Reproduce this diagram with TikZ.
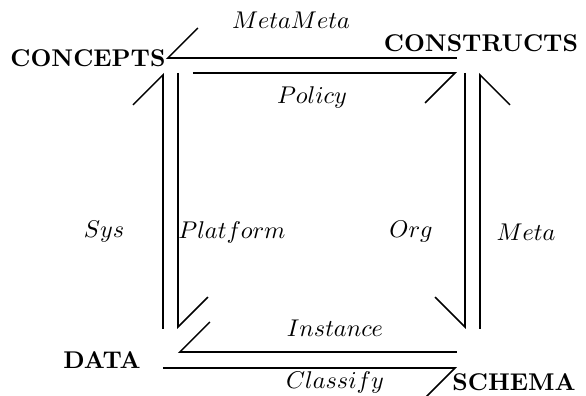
\documentclass[tikz,border=0pt]{standalone}
\usetikzlibrary{arrows.meta}
\begin{document}
\begin{tikzpicture}[x=0.4132pt,y=0.4132pt,
  obj/.style={font=\bfseries,inner sep=0pt},
  lbl/.style={inner sep=0pt},
  hl/.style={line width=0.65pt,-{Straight Barb[harpoon,length=12.4pt,width=24.8pt]}},
  hr/.style={line width=0.65pt,-{Straight Barb[harpoon,swap,length=12.4pt,width=24.8pt]}}]
\useasboundingbox (0,0) rectangle (586,396);
% objects
\node[obj] (concepts) at (88,338) {CONCEPTS};
\node[obj] (constructs) at (481,353) {CONSTRUCTS};
\node[obj] (data) at (102,36) {DATA};
\node[obj] (schema) at (514,14) {SCHEMA};
% end points of the parallel arrows
\coordinate (mmA) at (457,338); \coordinate (mmB) at (166,338);
\coordinate (poA) at (193,323); \coordinate (poB) at (457,323);
\coordinate (syA) at (163,67);  \coordinate (syB) at (163,323);
\coordinate (plA) at (178,323); \coordinate (plB) at (178,67);
\coordinate (orA) at (465,323); \coordinate (orB) at (465,67);
\coordinate (meA) at (480,67);  \coordinate (meB) at (480,323);
\coordinate (inA) at (457,44);  \coordinate (inB) at (178,44);
\coordinate (clA) at (163,28);  \coordinate (clB) at (457,28);
% arrows
\draw[hr] (mmA) -- (mmB);
\draw[hr] (poA) -- (poB);
\draw[hl] (syA) -- (syB);
\draw[hl] (plA) -- (plB);
\draw[hr] (orA) -- (orB);
\draw[hr] (meA) -- (meB);
\draw[hr] (inA) -- (inB);
\draw[hr] (clA) -- (clB);
% labels
\node[lbl] (lmm) at (291,376) {$MetaMeta$};
\node[lbl] (lpo) at (312,299) {$Policy$};
\node[lbl] (lsy) at (104,164) {$Sys$};
\node[lbl] (lpl) at (232,164) {$Platform$};
\node[lbl] (lor) at (411,164) {$Org$};
\node[lbl] (lme) at (526,164) {$Meta$};
\node[lbl] (lin) at (335,68) {$Instance$};
\node[lbl] (lcl) at (335,14) {$Classify$};
\end{tikzpicture}
\end{document}
